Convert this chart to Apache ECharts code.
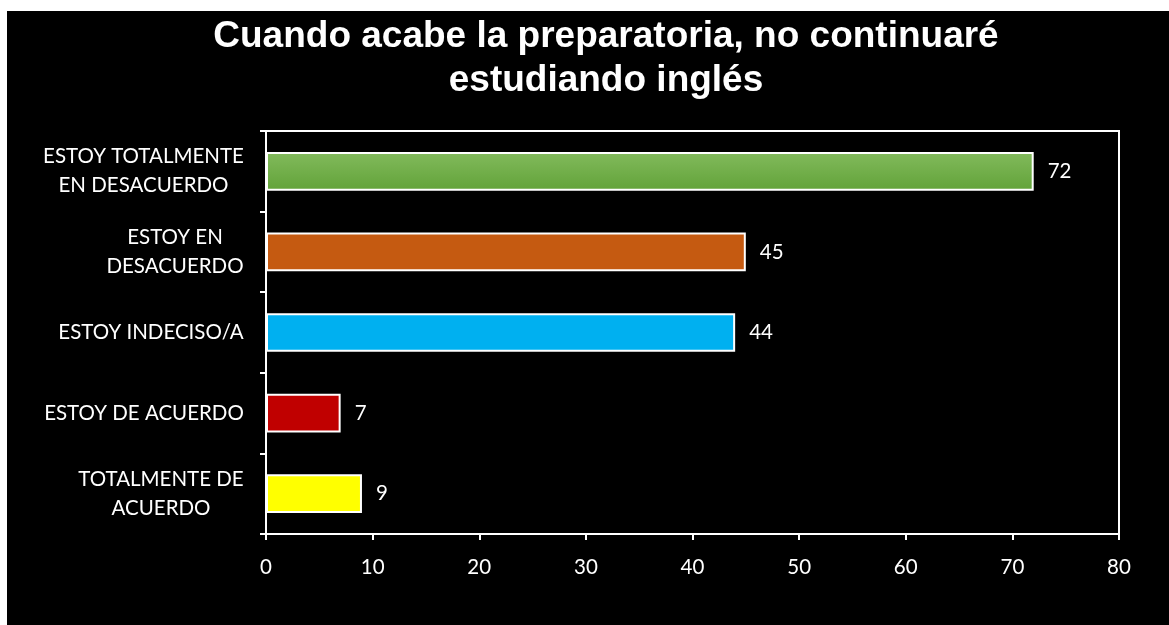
<!DOCTYPE html>
<html>
<head>
<meta charset="utf-8">
<script src="https://cdn.jsdelivr.net/npm/echarts@6/dist/echarts.min.js"></script>
<style>
  html, body { margin: 0; padding: 0; background: #fff; }
  #chart { position: absolute; left: 7px; top: 11px; width: 1162px; height: 614px; background: #000; }
</style>
</head>
<body>
<div id="chart"></div>
<script>
// 类别（自上而下）
const categories = [
  "ESTOY TOTALMENTE\nEN DESACUERDO",
  "ESTOY EN\nDESACUERDO",
  "ESTOY INDECISO/A",
  "ESTOY DE ACUERDO",
  "TOTALMENTE DE\nACUERDO"
];
const values = [72, 45, 44, 7, 9];
const barColors = ["green", "#c55a11", "#00b0f0", "#c00000", "#ffff00"];
const xTicks = { min: 0, max: 80, interval: 10 };

const fontSize = 20.5;

// 多行标签居中：按最长行宽度生成 rich 样式
const ctx = document.createElement("canvas").getContext("2d");
ctx.font = fontSize + "px Lato";
const rich = {};
categories.forEach((c, i) => {
  const w = Math.max(...c.split("\n").map(s => ctx.measureText(s).width));
  rich["r" + i] = { width: Math.ceil(w), align: "center", color: "#fff", fontFamily: "Lato", fontSize: fontSize, lineHeight: 29 };
});

const chart = echarts.init(document.getElementById("chart"));
chart.setOption({
  backgroundColor: "#000",
  animation: false,
  title: {
    text: "Cuando acabe la preparatoria, no continuaré\nestudiando inglés",
    left: 594,
    top: -1,
    textAlign: "center",
    textStyle: {
      color: "#fff",
      fontFamily: "Liberation Sans",
      fontWeight: "bold",
      fontSize: 37,
      lineHeight: 44
    }
  },
  grid: {
    left: 259,
    right: 50,
    top: 120,
    bottom: 91,
    show: true,
    borderColor: "#fff",
    borderWidth: 2,
    containLabel: false
  },
  xAxis: {
    type: "value",
    min: xTicks.min,
    max: xTicks.max,
    interval: xTicks.interval,
    splitLine: { show: false },
    axisLine: { show: true, lineStyle: { color: "#fff", width: 2 } },
    axisTick: { show: true, length: 6, lineStyle: { color: "#fff", width: 2 } },
    axisLabel: { color: "#fff", fontFamily: "Lato", fontSize: fontSize, margin: 23 }
  },
  yAxis: {
    type: "category",
    inverse: true,
    data: categories,
    axisLine: { show: true, lineStyle: { color: "#fff", width: 2 } },
    axisTick: { show: true, length: 6, lineStyle: { color: "#fff", width: 2 } },
    axisLabel: {
      margin: 22,
      color: "#fff",
      fontFamily: "Lato",
      fontSize: fontSize,
      lineHeight: 29,
      formatter: function (value, idx) {
        return value.split("\n").map(s => "{r" + idx + "|" + s + "}").join("\n");
      },
      rich: rich
    }
  },
  series: [
    {
      type: "bar",
      barWidth: "48%",
      data: values.map((v, i) => ({
        value: v,
        itemStyle: {
          color: barColors[i] === "green"
            ? new echarts.graphic.LinearGradient(0, 0, 0, 1, [
                { offset: 0, color: "#82ba5c" },
                { offset: 1, color: "#62a339" }
              ])
            : barColors[i]
        }
      })),
      itemStyle: { borderColor: "#fff", borderWidth: 2 },
      label: {
        show: true,
        position: "right",
        distance: 14,
        color: "#fff",
        fontFamily: "Lato",
        fontSize: fontSize
      }
    }
  ]
});
</script>
</body>
</html>
